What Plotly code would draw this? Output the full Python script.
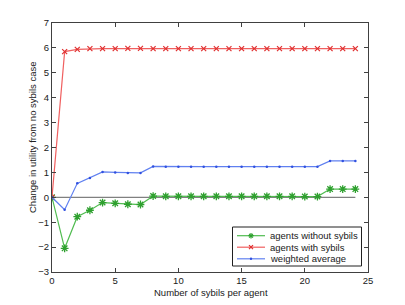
import plotly.graph_objects as go

x = list(range(25))
without_sybils = [0, -2.05, -0.78, -0.52, -0.21, -0.24, -0.28, -0.29, 0.05, 0.04, 0.04, 0.04, 0.04,
                  0.04, 0.04, 0.04, 0.04, 0.04, 0.04, 0.04, 0.03, 0.03, 0.33, 0.33, 0.33]
with_sybils = [0, 5.85, 5.94, 5.97, 5.97, 5.97, 5.98, 5.98, 5.97, 5.97, 5.97, 5.97, 5.97,
               5.97, 5.97, 5.97, 5.97, 5.97, 5.97, 5.97, 5.97, 5.97, 5.97, 5.97, 5.97]
weighted = [0, -0.5, 0.56, 0.78, 1.02, 1.0, 0.98, 0.98, 1.24, 1.23, 1.23, 1.23, 1.23,
            1.23, 1.23, 1.23, 1.23, 1.23, 1.23, 1.23, 1.23, 1.23, 1.46, 1.46, 1.46]
zero_line = [0] * 25
series_names = ["agents without sybils", "agents with sybils", "weighted average"]
x_title = "Number of sybils per agent"
y_title = "Change in utility from no sybils case"

GREEN_L, GREEN_M = "#50bc50", "#2ea02e"
RED_L, RED_M = "#f06060", "#e03030"
BLUE_L, BLUE_M = "#6080f0", "#3050e0"
FONT = "Liberation Sans, Arial"
FS = 9.5

OFF = 8  # default page body margin
W, H = 405 - OFF, 305 - OFF
# plot area in window pixels: x 52..368, y 23..272
PL, PR, PT, PB = 52, 368, 23, 272
ML, MR, MT, MB = PL - OFF, W - (PR - OFF), PT - OFF, H - (PB - OFF)
PW, PH = PR - PL, PB - PT


def px_x(p):
    return (p - PL) / PW


def px_y(p):
    return (PB - p) / PH


fig = go.Figure()
fig.add_trace(go.Scatter(x=x, y=zero_line, mode="lines", line=dict(color="#808080", width=1.3),
                         showlegend=False, hoverinfo="skip"))
fig.add_trace(go.Scatter(x=x, y=without_sybils, mode="lines+markers", name=series_names[0],
                         line=dict(color=GREEN_L, width=1.2),
                         marker=dict(symbol="asterisk-open", size=6.5, color=GREEN_M,
                                     line=dict(width=1.3, color=GREEN_M))))
fig.add_trace(go.Scatter(x=x, y=with_sybils, mode="lines+markers", name=series_names[1],
                         line=dict(color=RED_L, width=1.2),
                         marker=dict(symbol="x-thin-open", size=5, color=RED_M,
                                     line=dict(width=1.2, color=RED_M))))
fig.add_trace(go.Scatter(x=x, y=weighted, mode="lines+markers", name=series_names[2],
                         line=dict(color=BLUE_L, width=1.2),
                         marker=dict(symbol="circle", size=2.5, color=BLUE_M)))

# custom compact legend (MATLAB style)
shapes = [dict(type="rect", xref="paper", yref="paper",
               x0=px_x(232.5), x1=px_x(361.5), y0=px_y(266), y1=px_y(227),
               line=dict(color="#202020", width=1), fillcolor="white", layer="above")]
annotations = []
rows = [235.7, 247.2, 258.8]
cols = [(GREEN_L, GREEN_M), (RED_L, RED_M), (BLUE_L, BLUE_M)]
for i, (yy, (cl, cm), name) in enumerate(zip(rows, cols, series_names)):
    shapes.append(dict(type="line", xref="paper", yref="paper", x0=px_x(237), x1=px_x(265),
                       y0=px_y(yy), y1=px_y(yy), line=dict(color=cl, width=1.2), layer="above"))
    cx = 251
    if i == 0:
        for dx, dy in [(-2.7, 0), (0, -2.7), (-1.9, -1.9), (-1.9, 1.9)]:
            shapes.append(dict(type="line", xref="paper", yref="paper",
                               x0=px_x(cx + dx), x1=px_x(cx - dx), y0=px_y(yy + dy), y1=px_y(yy - dy),
                               line=dict(color=cm, width=1.2), layer="above"))
    elif i == 1:
        for dx, dy in [(-2, -2), (-2, 2)]:
            shapes.append(dict(type="line", xref="paper", yref="paper",
                               x0=px_x(cx + dx), x1=px_x(cx - dx), y0=px_y(yy + dy), y1=px_y(yy - dy),
                               line=dict(color=cm, width=1.2), layer="above"))
    else:
        shapes.append(dict(type="circle", xref="paper", yref="paper",
                           x0=px_x(cx - 1.2), x1=px_x(cx + 1.2), y0=px_y(yy + 1.2), y1=px_y(yy - 1.2),
                           line=dict(color=cm, width=0), fillcolor=cm, layer="above"))
    annotations.append(dict(xref="paper", yref="paper", x=px_x(268), y=px_y(yy),
                            xanchor="left", yanchor="middle", showarrow=False, text=name,
                            font=dict(family=FONT, size=FS, color="#202020")))

# axis titles
annotations.append(dict(xref="paper", yref="paper", x=px_x(210.5), y=px_y(292),
                        xanchor="center", yanchor="middle", showarrow=False, text=x_title,
                        font=dict(family=FONT, size=FS, color="#202020")))
annotations.append(dict(xref="paper", yref="paper", x=px_x(32), y=px_y(137),
                        xanchor="center", yanchor="middle", showarrow=False, text=y_title,
                        textangle=-90, font=dict(family=FONT, size=FS, color="#202020")))

axis_common = dict(showgrid=False, zeroline=False, showline=True, linecolor="#404040", linewidth=1,
                   mirror="ticks", ticks="inside", ticklen=4, tickcolor="#404040", automargin=False,
                   tickfont=dict(family=FONT, size=FS, color="#202020"))

fig.update_layout(
    width=W, height=H,
    margin=dict(l=ML, r=MR, t=MT, b=MB),
    paper_bgcolor="white", plot_bgcolor="white",
    font=dict(family=FONT, size=FS, color="#202020"),
    showlegend=False,
    xaxis=dict(range=[0, 25], tickvals=[0, 5, 10, 15, 20, 25], **axis_common),
    yaxis=dict(range=[-3, 7], tickvals=list(range(-3, 8)), **axis_common),
    shapes=shapes, annotations=annotations,
)

fig.write_html("out.html")
